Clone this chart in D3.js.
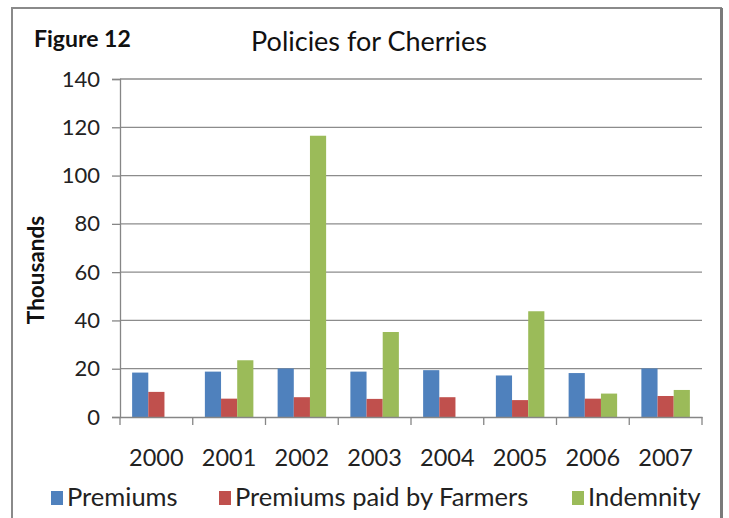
<!DOCTYPE html>
<html>
<head>
<meta charset="utf-8">
<script src="https://cdn.jsdelivr.net/npm/d3@7"></script>
<style>
  html, body { margin: 0; padding: 0; background: #fff; }
  svg { display: block; font-family: Lato, "Open Sans", sans-serif; }
</style>
</head>
<body>
<svg id="chart" width="729" height="518"></svg>
<script>
// Policies for cherries, values in thousands
const years = ["2000", "2001", "2002", "2003", "2004", "2005", "2006", "2007"];
const seriesNames = ["Premiums", "Premiums paid by Farmers", "Indemnity"];
const premiums = [18.4, 18.8, 20.1, 18.8, 19.4, 17.2, 18.2, 20.1];
const premiumsFarmers = [10.4, 7.6, 8.2, 7.5, 8.2, 7.0, 7.6, 8.7];
const indemnity = [0, 23.5, 116.5, 35.2, 0, 43.8, 9.7, 11.2];
const yTicks = [0, 20, 40, 60, 80, 100, 120, 140];
const colors = ["#4F81BD", "#C0504D", "#9BBB59"];

const seriesValues = [premiums, premiumsFarmers, indemnity];

const svg = d3.select("#chart");
const plot = { left: 120, right: 702, top: 79, bottom: 417 };

// Outer chart frame
svg.append("rect")
  .attr("x", 12).attr("y", 8)
  .attr("width", 709).attr("height", 530)
  .attr("fill", "#fff")
  .attr("stroke", "#8a8a8a").attr("stroke-width", 2);
svg.append("line")
  .attr("x1", 721.5).attr("x2", 721.5).attr("y1", 8).attr("y2", 518)
  .attr("stroke", "#7a7a7a").attr("stroke-width", 3);

const x = d3.scaleBand().domain(years).range([plot.left, plot.right]).paddingInner(0).paddingOuter(0);
const y = d3.scaleLinear().domain([0, 140]).range([plot.bottom, plot.top]);

// bar width: Excel-like 150% gap
const barW = x.bandwidth() / (seriesNames.length + 1.5);
const x1 = d3.scaleBand().domain(d3.range(seriesNames.length))
  .range([(x.bandwidth() - barW * 3) / 2, (x.bandwidth() + barW * 3) / 2]);

// Gridlines
svg.append("g").selectAll("line").data(yTicks.filter(d => d > 0)).join("line")
  .attr("x1", plot.left).attr("x2", plot.right)
  .attr("y1", d => y(d)).attr("y2", d => y(d))
  .attr("stroke", "#8c8c8c").attr("stroke-width", 1.3);

// Bars
const groups = svg.append("g").selectAll("g").data(years).join("g")
  .attr("transform", d => `translate(${x(d)},0)`);
groups.selectAll("rect")
  .data((d, i) => seriesValues.map((s, k) => ({ k, v: s[i] })))
  .join("rect")
  .attr("x", d => x1(d.k))
  .attr("width", x1.bandwidth())
  .attr("y", d => y(d.v))
  .attr("height", d => y(0) - y(d.v))
  .attr("fill", d => colors[d.k]);

// Y axis
const yAxis = svg.append("g")
  .attr("transform", `translate(${plot.left},0)`)
  .call(d3.axisLeft(y).tickValues(yTicks).tickSize(8).tickPadding(12));
yAxis.select(".domain").attr("stroke", "#868686").attr("stroke-width", 1.3);
yAxis.selectAll(".tick line").attr("stroke", "#868686").attr("stroke-width", 1.3);
yAxis.selectAll(".tick text")
  .attr("font-family", "Lato, sans-serif").attr("font-size", 22).attr("fill", "#222");

// X axis with ticks at category boundaries
const xAxis = svg.append("g")
  .attr("transform", `translate(0,${plot.bottom})`)
  .call(d3.axisBottom(x).tickSize(0).tickPadding(32));
xAxis.select(".domain").attr("stroke", "#868686").attr("stroke-width", 1.3);
xAxis.selectAll(".tick text")
  .attr("font-family", "Lato, sans-serif").attr("font-size", 23.5).attr("fill", "#222");
xAxis.selectAll("line.bound")
  .data(years.map(d => x(d)).concat([plot.right]))
  .join("line").attr("class", "bound")
  .attr("x1", d => d).attr("x2", d => d)
  .attr("y1", 0).attr("y2", 8)
  .attr("stroke", "#868686").attr("stroke-width", 1.3);

// Titles
svg.append("text")
  .attr("x", 34).attr("y", 47)
  .attr("font-size", 23).attr("font-weight", "bold").attr("fill", "#111")
  .text("Figure 12");
svg.append("text")
  .attr("x", 369).attr("y", 51).attr("text-anchor", "middle")
  .attr("font-size", 27).attr("fill", "#111")
  .text("Policies for Cherries");
svg.append("text")
  .attr("transform", "translate(44,270) rotate(-90)")
  .attr("text-anchor", "middle")
  .attr("font-size", 22.5).attr("font-weight", "bold").attr("fill", "#111")
  .text("Thousands");

// Legend
const legendX = [51, 219, 572];
const legend = svg.append("g").selectAll("g").data(seriesNames).join("g")
  .attr("transform", (d, i) => `translate(${legendX[i]},491)`);
legend.append("rect").attr("width", 12).attr("height", 14).attr("fill", (d, i) => colors[i]);
legend.append("text")
  .attr("x", 16).attr("y", 15)
  .attr("font-size", 25.5).attr("fill", "#222")
  .text(d => d);
</script>
</body>
</html>
